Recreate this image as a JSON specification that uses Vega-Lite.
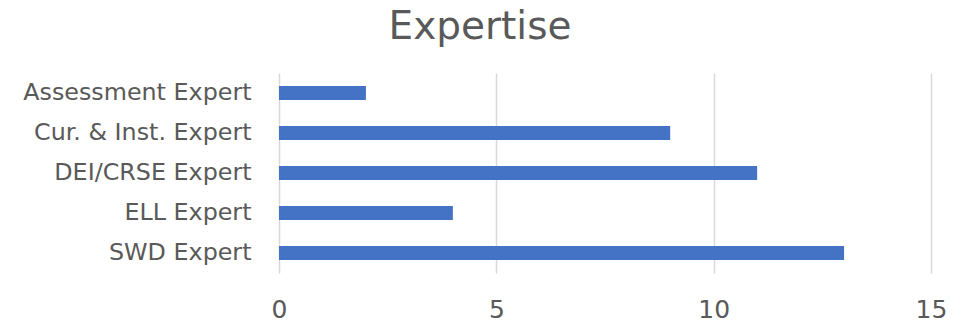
{
  "$schema": "https://vega.github.io/schema/vega-lite/v6.json",
  "width": 652,
  "height": 200,
  "autosize": {"type": "none"},
  "padding": {"left": 279, "top": 73, "right": 40, "bottom": 52},
  "background": "white",
  "title": {
    "text": "Expertise",
    "fontSize": 39,
    "font": "DejaVu Sans",
    "fontWeight": "normal",
    "color": "#595959",
    "anchor": "middle",
    "dx": -125,
    "offset": 26
  },
  "data": {
    "values": [
      {"category": "Assessment Expert", "value": 2},
      {"category": "Cur. & Inst. Expert", "value": 9},
      {"category": "DEI/CRSE Expert", "value": 11},
      {"category": "ELL Expert", "value": 4},
      {"category": "SWD Expert", "value": 13}
    ]
  },
  "mark": {"type": "bar", "color": "#4472c4"},
  "encoding": {
    "y": {
      "field": "category",
      "type": "nominal",
      "sort": null,
      "scale": {"paddingInner": 0.65, "paddingOuter": 0.325},
      "axis": {
        "title": null,
        "domain": false,
        "ticks": false,
        "labelFontSize": 23.8,
        "labelFont": "DejaVu Sans",
        "labelColor": "#595959",
        "labelPadding": 28,
        "labelLimit": 300
      }
    },
    "x": {
      "field": "value",
      "type": "quantitative",
      "scale": {"domain": [0, 15], "nice": false},
      "axis": {
        "title": null,
        "values": [0, 5, 10, 15],
        "domain": false,
        "ticks": false,
        "grid": true,
        "gridColor": "#d9d9d9",
        "gridWidth": 1.5,
        "labelFontSize": 25,
        "labelFont": "DejaVu Sans",
        "labelColor": "#595959",
        "labelPadding": 24,
        "labelFlush": false
      }
    }
  },
  "config": {"view": {"stroke": null}}
}
